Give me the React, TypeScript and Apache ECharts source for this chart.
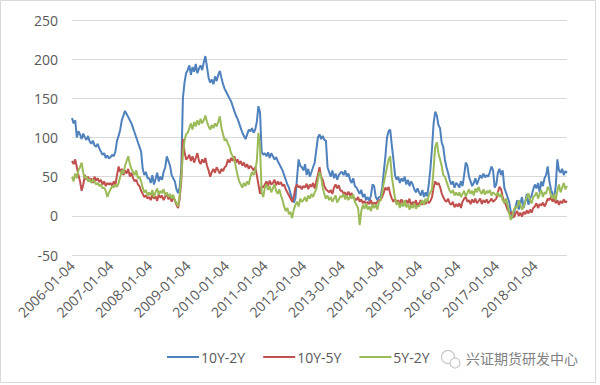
import React, { useEffect, useRef } from 'react';
import * as echarts from 'echarts';

// Semi-monthly samples (the 4th and 18th of each month), 2006-01-04 .. 2018-11-04
const years = [2006, 2007, 2008, 2009, 2010, 2011, 2012, 2013, 2014, 2015, 2016, 2017, 2018];
const sampleDays = ['04', '18'];
const pointCount = 309;
const tickLabels = years.map((y) => `${y}-01-04`);

const seriesNames = ['10Y-2Y', '10Y-5Y', '5Y-2Y'];
const seriesColors = ['#4F81BD', '#C0504D', '#9BBB59'];

const s10y2y = [
  125, 118, 122, 100, 108, 104, 98, 105, 100, 97, 102, 95, 92, 96, 90, 88, 92, 86, 82, 78, 80, 74, 77, 73,
  75, 78, 76, 82, 96, 102, 110, 122, 128, 134, 130, 126, 122, 118, 112, 106, 100, 94, 88, 82, 60, 52, 56, 48,
  48, 42, 52, 40, 47, 55, 44, 50, 46, 56, 62, 76, 70, 64, 52, 48, 44, 34, 29, 36, 60, 150, 170, 182,
  186, 192, 180, 190, 184, 194, 182, 188, 192, 186, 196, 204, 190, 176, 170, 174, 168, 178, 172, 180, 185, 176, 168, 162,
  158, 154, 150, 146, 140, 134, 128, 124, 118, 112, 106, 102, 98, 104, 110, 108, 112, 106, 110, 120, 140, 132, 82, 78,
  80, 76, 81, 74, 80, 76, 72, 75, 70, 66, 62, 58, 52, 46, 40, 36, 28, 22, 17, 22, 48, 72, 64, 62,
  58, 66, 52, 60, 50, 56, 62, 68, 84, 100, 104, 98, 102, 97, 96, 62, 56, 50, 58, 48, 54, 46, 52, 55,
  56, 52, 58, 50, 54, 46, 42, 48, 38, 36, 32, 28, 33, 24, 28, 20, 24, 19, 26, 40, 38, 24, 20, 24,
  24, 36, 56, 76, 100, 108, 110, 90, 72, 52, 46, 50, 42, 48, 44, 50, 40, 46, 38, 44, 40, 34, 30, 35,
  30, 26, 33, 24, 30, 25, 40, 60, 86, 118, 133, 128, 116, 112, 94, 88, 72, 62, 55, 46, 40, 44, 36, 42,
  40, 36, 44, 38, 52, 68, 64, 50, 44, 38, 42, 48, 40, 46, 52, 48, 54, 49, 52, 50, 56, 63, 58, 36,
  40, 55, 60, 52, 58, 36, 30, 24, 18, 6, -3, 4, 12, 20, 8, 16, 24, 10, 18, 28, 14, 22, 26, 34,
  40, 35, 42, 30, 44, 38, 48, 52, 63, 45, 34, 28, 24, 38, 72, 58, 55, 60, 52, 57, 55,
];

const s10y5y = [
  70, 66, 72, 62, 52, 44, 32, 40, 52, 46, 50, 44, 48, 42, 50, 45, 48, 43, 46, 40, 44, 38, 42, 40,
  42, 38, 44, 40, 52, 63, 56, 60, 52, 58, 54, 60, 50, 55, 48, 44, 46, 40, 38, 32, 28, 24, 26, 22,
  24, 20, 27, 22, 25, 19, 28, 23, 26, 20, 24, 29, 21, 25, 18, 23, 20, 14, 10, 22, 45, 98, 82, 72,
  74, 78, 70, 76, 68, 74, 80, 70, 66, 72, 68, 74, 64, 58, 50, 56, 60, 55, 62, 58, 54, 60, 57, 62,
  64, 72, 68, 74, 70, 76, 68, 72, 66, 70, 64, 68, 62, 66, 60, 64, 61, 58, 62, 52, 40, 28, 38, 36,
  40, 44, 38, 45, 40, 42, 46, 39, 44, 40, 43, 38, 40, 34, 30, 26, 22, 18, 24, 36, 40, 36, 38, 34,
  38, 36, 41, 34, 40, 37, 42, 35, 44, 52, 62, 50, 46, 38, 34, 32, 30, 33, 28, 36, 40, 35, 39, 32,
  32, 28, 30, 25, 31, 26, 29, 24, 22, 20, 24, 18, 21, 16, 19, 14, 18, 15, 20, 14, 17, 15, 18, 20,
  20, 24, 30, 36, 33, 37, 28, 22, 18, 22, 16, 20, 15, 21, 17, 14, 20, 16, 22, 12, 18, 14, 20, 12,
  16, 20, 14, 18, 15, 20, 16, 19, 24, 36, 44, 40, 42, 37, 29, 24, 20, 18, 22, 16, 14, 18, 11, 15,
  12, 16, 10, 18, 22, 24, 18, 20, 15, 21, 17, 22, 16, 19, 22, 15, 20, 17, 21, 16, 19, 22, 18, 20,
  22, 30, 37, 34, 24, 18, 14, 8, 4, 2, 5, -2, 3, 6, 0, 4, -1, 5, 2, 7, 3, 8, 4, 10,
  12, 16, 10, 15, 13, 17, 12, 16, 22, 20, 24, 18, 22, 16, 20, 14, 19, 16, 21, 17, 19,
];

const s5y2y = [
  50, 44, 54, 48, 58, 62, 68, 55, 48, 50, 44, 47, 42, 46, 44, 40, 42, 38, 40, 35, 36, 32, 24, 30,
  34, 38, 36, 40, 37, 42, 50, 58, 54, 64, 70, 76, 66, 60, 56, 52, 58, 48, 50, 44, 36, 30, 33, 26,
  30, 26, 33, 24, 30, 35, 27, 32, 29, 34, 26, 30, 24, 28, 22, 27, 20, 16, 12, 26, 50, 78, 96, 104,
  106, 112, 118, 110, 120, 114, 122, 116, 124, 118, 122, 128, 120, 114, 110, 116, 112, 118, 114, 120, 127, 112, 104, 96,
  98, 92, 88, 80, 76, 72, 62, 52, 44, 40, 36, 42, 38, 44, 40, 50, 56, 52, 58, 70, 106, 88, 30, 24,
  36, 40, 33, 38, 30, 35, 40, 32, 28, 34, 26, 20, 12, 6, 10, 2, 5, -3, 8, 14, 18, 12, 22, 18,
  20, 24, 18, 26, 22, 28, 24, 30, 34, 46, 56, 50, 36, 28, 22, 26, 20, 24, 18, 22, 26, 17, 21, 25,
  24, 28, 21, 26, 20, 25, 22, 27, 18, 14, 10, -12, 6, 14, 9, 16, 8, 12, 6, 15, 10, 14, 8, 18,
  20, 30, 42, 52, 62, 72, 76, 50, 36, 22, 14, 18, 10, 16, 12, 20, 11, 15, 8, 14, 10, 16, 9, 13,
  12, 16, 20, 14, 22, 18, 26, 30, 34, 60, 88, 94, 80, 72, 64, 52, 50, 44, 38, 32, 29, 33, 26, 30,
  26, 30, 24, 28, 32, 25, 29, 34, 28, 32, 26, 35, 30, 37, 31, 28, 34, 27, 32, 29, 33, 26, 30, 28,
  26, 30, 24, 28, 20, 16, 22, 14, 4, -5, 0, 8, 12, 10, 20, 14, 8, 12, 18, 24, 29, 20, 16, 24,
  26, 30, 22, 28, 33, 24, 30, 28, 37, 34, 26, 22, 28, 20, 32, 40, 30, 36, 42, 34, 38,
];

const yMin = -50;
const yMax = 250;
const yStep = 50;

function buildCategories(): string[] {
  const out: string[] = [];
  for (const y of years) {
    for (let m = 1; m <= 12; m++) {
      for (const d of sampleDays) {
        if (out.length < pointCount) out.push(`${y}-${String(m).padStart(2, '0')}-${d}`);
      }
    }
  }
  return out;
}

const FONT = '"Open Sans", "Liberation Sans", sans-serif';

export default function App() {
  const ref = useRef<HTMLDivElement>(null);
  useEffect(() => {
    if (!ref.current) return;
    const chart = echarts.init(ref.current, undefined, { renderer: 'svg' });
    const categories = buildCategories();
    const dataSets = [s10y2y, s10y5y, s5y2y];
    chart.setOption({
      animation: false,
      backgroundColor: '#ffffff',
      grid: { left: 72, right: 33, top: 20, bottom: 130, containLabel: false },
      xAxis: {
        type: 'category',
        data: categories,
        boundaryGap: false,
        axisLine: { show: false },
        axisTick: { show: false },
        splitLine: { show: false },
        axisLabel: {
          interval: (_i: number, v: string) => tickLabels.includes(v),
          rotate: 45,
          margin: 8,
          color: '#595959',
          fontSize: 14,
          fontFamily: FONT,
        },
      },
      yAxis: {
        type: 'value',
        min: yMin,
        max: yMax,
        interval: yStep,
        axisLine: { show: false },
        axisTick: { show: false },
        splitLine: { lineStyle: { color: '#D9D9D9', width: 1 } },
        axisLabel: { color: '#595959', fontSize: 14, fontFamily: FONT, margin: 14 },
      },
      legend: {
        data: seriesNames,
        left: 162,
        top: 345,
        icon: 'rect',
        itemWidth: 32,
        itemHeight: 2,
        itemGap: 18,
        textStyle: { color: '#595959', fontSize: 14, fontFamily: FONT, padding: [0, 0, 0, -3] },
      },
      series: seriesNames.map((name, i) => ({
        name,
        type: 'line',
        data: dataSets[i],
        symbol: 'none',
        color: seriesColors[i],
        lineStyle: { width: 2, color: seriesColors[i] },
        itemStyle: { color: seriesColors[i] },
      })),
      graphic: [
        {
          type: 'rect',
          shape: { x: 0.5, y: 0.5, width: 595, height: 382 },
          style: { fill: 'none', stroke: '#D9D9D9', lineWidth: 1 },
          silent: true,
        },
        {
          type: 'circle',
          shape: { cx: 448, cy: 357, r: 6.5 },
          style: { fill: 'none', stroke: '#C8C8C8', lineWidth: 1.2 },
          silent: true,
        },
        {
          type: 'circle',
          shape: { cx: 455, cy: 363, r: 5 },
          style: { fill: '#ffffff', stroke: '#C8C8C8', lineWidth: 1.2 },
          silent: true,
        },
        {
          type: 'text',
          x: 466,
          y: 358,
          style: {
            text: '兴证期货研发中心',
            fill: '#7F7F7F',
            font: '14px "Noto Sans CJK SC", sans-serif',
            textVerticalAlign: 'middle',
            verticalAlign: 'middle',
            stroke: '#ffffff',
            lineWidth: 2,
          },
          silent: true,
        },
      ],
    });
    return () => chart.dispose();
  }, []);
  return (
    <div
      ref={ref}
      style={{ position: 'fixed', left: 0, top: 0, width: 600, height: 385, background: '#fff' }}
    />
  );
}
